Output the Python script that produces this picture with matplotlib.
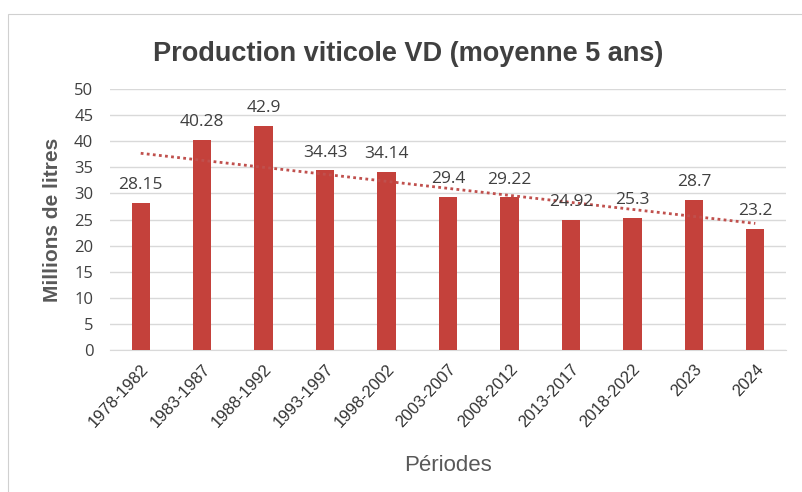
import matplotlib.pyplot as plt
import numpy as np
from matplotlib.patches import Rectangle

periods = ["1978-1982", "1983-1987", "1988-1992", "1993-1997", "1998-2002", "2003-2007",
           "2008-2012", "2013-2017", "2018-2022", "2023", "2024"]
production = [28.15, 40.28, 42.9, 34.43, 34.14, 29.4, 29.22, 24.92, 25.3, 28.7, 23.2]
yticks = [0, 5, 10, 15, 20, 25, 30, 35, 40, 45, 50]

bar_colour = "#C4413B"
text_colour = "#404040"

fig = plt.figure(figsize=(8.02, 4.92), dpi=100)
fig.patch.set_facecolor("white")

# faint spreadsheet frame round the chart area
fig.add_artist(Rectangle((8 / 802, -0.1), 1.0, 1 - 14 / 492 + 0.1, transform=fig.transFigure,
                         fill=False, edgecolor="#D0D0D0", linewidth=0.8))

ax = fig.add_axes([110 / 802, 1 - 350 / 492, 676 / 802, 261 / 492])
x = np.arange(len(periods))
ax.bar(x, production, width=0.3, color=bar_colour, zorder=3)

# linear trend line
slope, intercept = np.polyfit(x, production, 1)
ax.plot(x, slope * x + intercept, linestyle=(0, (1, 1.2)), color="#C0504D", linewidth=2, zorder=4)

for xi, v in zip(x, production):
    ax.annotate(f"{v:g}", (xi, v), xytext=(0, 7), textcoords="offset points", ha="center",
                va="bottom", fontsize=12.5, color=text_colour, family="Open Sans", zorder=5)

ax.set_xlim(-0.5, 10.5)
ax.set_ylim(0, 50)
ax.set_yticks(yticks)
ax.set_yticklabels([str(t) for t in yticks], family="Open Sans", fontsize=12, color=text_colour)
ax.set_xticks(x)
ax.set_xticklabels(periods, rotation=47, ha="right", rotation_mode="anchor",
                   family="Liberation Sans", fontsize=12, color="#333333")
ax.tick_params(axis="both", length=0)
ax.tick_params(axis="y", pad=12)
ax.tick_params(axis="x", pad=8)
ax.grid(axis="y", color="#D9D9D9", linewidth=1, zorder=0)
for side in ["top", "right", "left"]:
    ax.spines[side].set_visible(False)
ax.spines["bottom"].set_color("#D9D9D9")

ax.set_ylabel("Millions de litres", family="Liberation Sans", fontweight="bold", fontsize=15,
              color="#595959", labelpad=9)
ax.set_xlabel("Périodes", family="Liberation Sans", fontsize=16, color="#595959", labelpad=18)
fig.text(408 / 802, 1 - 61 / 492, "Production viticole VD (moyenne 5 ans)",
         ha="center", va="baseline", family="Liberation Sans", fontweight="bold", fontsize=19.5,
         color=text_colour)

fig.savefig("out.png", dpi=100)
